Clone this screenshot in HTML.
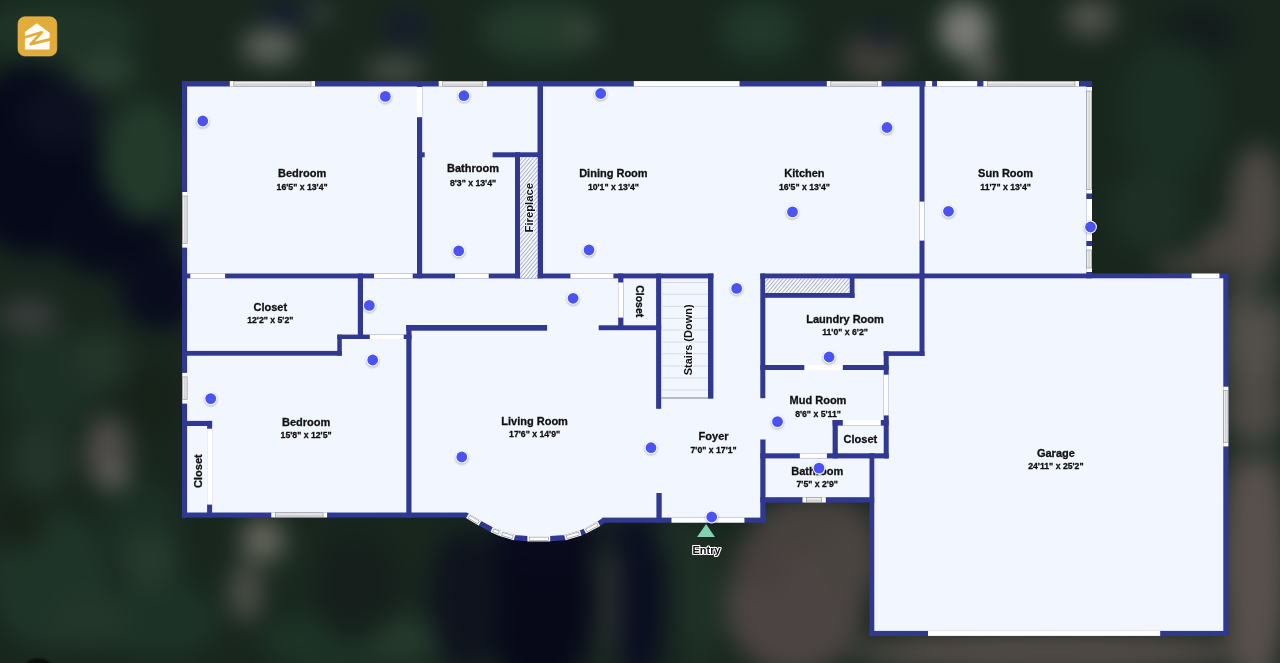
<!DOCTYPE html>
<html><head><meta charset="utf-8"><style>
html,body{margin:0;padding:0;position:relative;width:1280px;height:663px;overflow:hidden;background:#1a2a22;}
svg{display:block;position:absolute;left:0;top:0;will-change:transform;}
#bg{position:absolute;left:-40px;top:-40px;width:1360px;height:743px;background:#18261e;filter:blur(12px);overflow:hidden;}
#bg div{position:absolute;border-radius:50%;}
text{font-family:"Liberation Sans", sans-serif;}
</style></head><body>
<div id="bg">
<div style="left:0px;top:105px;width:140px;height:190px;background:#060919"></div>
<div style="left:90px;top:225px;width:120px;height:90px;background:#070a1a"></div>
<div style="left:160px;top:290px;width:80px;height:80px;background:#090c1d"></div>
<div style="left:60px;top:120px;width:80px;height:70px;background:#0d1020"></div>
<div style="left:525px;top:545px;width:110px;height:190px;background:#070919"></div>
<div style="left:530px;top:552px;width:110px;height:56px;background:#090b1d"></div>
<div style="left:655px;top:555px;width:50px;height:170px;background:#0a0e20"></div>
<div style="left:645px;top:560px;width:50px;height:50px;background:#0b0f20"></div>
<div style="left:303px;top:40px;width:44px;height:24px;background:#151b33"></div>
<div style="left:425px;top:52px;width:40px;height:32px;background:#151a2e"></div>
<div style="left:1200px;top:45px;width:80px;height:50px;background:#141c1c"></div>
<div style="left:145px;top:140px;width:80px;height:120px;background:#233a2b"></div>
<div style="left:113px;top:92px;width:64px;height:36px;background:#2a4031"></div>
<div style="left:20px;top:40px;width:160px;height:60px;background:#1f3427"></div>
<div style="left:520px;top:40px;width:120px;height:60px;background:#243a2b"></div>
<div style="left:760px;top:40px;width:80px;height:60px;background:#21382a"></div>
<div style="left:1160px;top:80px;width:100px;height:140px;background:#1c2f24"></div>
<div style="left:1150px;top:210px;width:80px;height:80px;background:#1e3026"></div>
<div style="left:30px;top:550px;width:120px;height:140px;background:#1f3428"></div>
<div style="left:140px;top:620px;width:120px;height:80px;background:#1d3226"></div>
<div style="left:300px;top:650px;width:140px;height:60px;background:#1d3326"></div>
<div style="left:718px;top:570px;width:44px;height:140px;background:#1e3127"></div>
<div style="left:700px;top:560px;width:50px;height:40px;background:#1e2f26"></div>
<div style="left:40px;top:370px;width:100px;height:100px;background:#1d3026"></div>
<div style="left:140px;top:520px;width:80px;height:80px;background:#1c2f24"></div>
<div style="left:282px;top:70px;width:56px;height:34px;background:#62655f"></div>
<div style="left:350px;top:46px;width:20px;height:16px;background:#50544f"></div>
<div style="left:405px;top:96px;width:60px;height:28px;background:#454b45"></div>
<div style="left:606px;top:60px;width:32px;height:24px;background:#3b473c"></div>
<div style="left:883px;top:73px;width:64px;height:50px;background:#403e39"></div>
<div style="left:908px;top:64px;width:24px;height:24px;background:#15192a"></div>
<div style="left:979px;top:42px;width:52px;height:56px;background:#7b7c77"></div>
<div style="left:1009px;top:94px;width:28px;height:28px;background:#5f5f5a"></div>
<div style="left:1105px;top:40px;width:50px;height:36px;background:#56554f"></div>
<div style="left:1270px;top:185px;width:56px;height:130px;background:#4e4945"></div>
<div style="left:1240px;top:265px;width:50px;height:50px;background:#4a4541"></div>
<div style="left:1195px;top:293px;width:70px;height:24px;background:#45413c"></div>
<div style="left:1263px;top:310px;width:64px;height:140px;background:#524e4a"></div>
<div style="left:1261px;top:470px;width:68px;height:260px;background:#58504d"></div>
<div style="left:1263px;top:420px;width:64px;height:60px;background:#4e4a46"></div>
<div style="left:1291px;top:316px;width:24px;height:32px;background:#24332a"></div>
<div style="left:1266px;top:481px;width:64px;height:22px;background:#2c352f"></div>
<div style="left:765px;top:575px;width:140px;height:140px;background:#4b4442"></div>
<div style="left:775px;top:570px;width:50px;height:60px;background:#463f3d"></div>
<div style="left:890px;top:672px;width:400px;height:40px;background:#544c49"></div>
<div style="left:795px;top:537px;width:120px;height:56px;background:#47413e"></div>
<div style="left:860px;top:560px;width:60px;height:80px;background:#4a4441"></div>
<div style="left:641px;top:580px;width:18px;height:120px;background:#2f3430"></div>
<div style="left:126px;top:456px;width:44px;height:72px;background:#514d4b"></div>
<div style="left:145px;top:509px;width:22px;height:18px;background:#75756f"></div>
<div style="left:38px;top:338px;width:60px;height:36px;background:#3a3c3c"></div>
<div style="left:110px;top:370px;width:60px;height:60px;background:#233429"></div>
<div style="left:165px;top:400px;width:50px;height:80px;background:#172219"></div>
<div style="left:50px;top:465px;width:60px;height:70px;background:#23352a"></div>
<div style="left:160px;top:570px;width:60px;height:60px;background:#253a2d"></div>
<div style="left:90px;top:630px;width:80px;height:60px;background:#22362a"></div>
<div style="left:35px;top:530px;width:50px;height:60px;background:#172219"></div>
<div style="left:400px;top:655px;width:80px;height:50px;background:#24392c"></div>
<div style="left:310px;top:580px;width:60px;height:60px;background:#1a2a20"></div>
<div style="left:470px;top:570px;width:70px;height:140px;background:#0f131d"></div>
<div style="left:350px;top:570px;width:90px;height:110px;background:#161f1c"></div>
<div style="left:281px;top:558px;width:44px;height:44px;background:#66665d"></div>
<div style="left:269px;top:602px;width:34px;height:60px;background:#4c4f48"></div>
</div>
<svg width="1280" height="663" viewBox="0 0 1280 663">
<defs>
<filter id="bgblur" x="-20%" y="-20%" width="140%" height="140%"><feGaussianBlur stdDeviation="18"/></filter>
<filter id="dsh" x="-50%" y="-50%" width="200%" height="200%"><feGaussianBlur stdDeviation="1"/></filter>
<pattern id="hatch" patternUnits="userSpaceOnUse" width="2.8" height="10" patternTransform="rotate(40)">
<rect width="2.8" height="10" fill="#f7f9ff"/><line x1="0.5" y1="0" x2="0.5" y2="10" stroke="#a3a9bf" stroke-width="0.9"/></pattern>
</defs>
<path d="M183,82 H1091 V274.5 H1227.4 V635 H870.5 V501.5 H764.5 V521.7 H604 L604,520.1 L598.9,523.6 L584.8,531.2 L580.7,533.0 L564.9,537.6 L550.2,538.7 L527.4,538.7 L514.5,537.6 L500.4,533.4 L491.6,529.6 L480,523.3 L466,515 L466,516.6 H183 Z" fill="#f2f7ff"/>
<rect x="182.00" y="81.10" width="910.00" height="5.40" fill="#303891" />
<rect x="182.00" y="81.10" width="5.10" height="436.50" fill="#303891" />
<rect x="182.30" y="512.50" width="284.70" height="5.10" fill="#303891" />
<rect x="1086.30" y="81.10" width="5.70" height="197.20" fill="#303891" />
<rect x="919.50" y="273.50" width="308.90" height="4.80" fill="#303891" />
<rect x="1223.30" y="273.50" width="5.10" height="362.40" fill="#303891" />
<rect x="869.50" y="630.90" width="358.90" height="5.00" fill="#303891" />
<rect x="869.50" y="453.20" width="4.80" height="182.70" fill="#303891" />
<rect x="883.70" y="351.30" width="5.00" height="107.10" fill="#303891" />
<rect x="602.00" y="517.60" width="163.50" height="5.10" fill="#303891" />
<rect x="760.30" y="439.50" width="5.20" height="83.20" fill="#303891" />
<rect x="760.30" y="497.20" width="113.90" height="5.30" fill="#303891" />
<rect x="760.30" y="273.50" width="5.00" height="124.70" fill="#303891" />
<rect x="417.00" y="81.10" width="5.20" height="197.20" fill="#303891" />
<rect x="417.00" y="152.30" width="7.70" height="5.00" fill="#303891" />
<rect x="537.50" y="81.10" width="5.50" height="197.20" fill="#303891" />
<rect x="492.60" y="152.30" width="50.40" height="5.00" fill="#303891" />
<rect x="515.00" y="152.30" width="5.10" height="126.00" fill="#303891" />
<rect x="919.50" y="81.10" width="5.00" height="197.20" fill="#303891" />
<rect x="182.30" y="273.50" width="531.10" height="4.90" fill="#303891" />
<rect x="357.80" y="273.50" width="5.20" height="65.50" fill="#303891" />
<rect x="187.00" y="350.90" width="154.80" height="4.80" fill="#303891" />
<rect x="337.30" y="334.60" width="4.50" height="21.10" fill="#303891" />
<rect x="337.30" y="334.60" width="74.20" height="4.40" fill="#303891" />
<rect x="406.30" y="325.00" width="140.80" height="5.70" fill="#303891" />
<rect x="598.70" y="325.30" width="62.50" height="4.90" fill="#303891" />
<rect x="406.30" y="325.00" width="5.20" height="192.60" fill="#303891" />
<rect x="187.00" y="420.90" width="25.10" height="5.10" fill="#303891" />
<rect x="207.10" y="420.90" width="5.00" height="96.70" fill="#303891" />
<rect x="618.20" y="273.50" width="5.20" height="56.50" fill="#303891" />
<rect x="656.10" y="273.50" width="5.10" height="135.30" fill="#303891" />
<rect x="708.00" y="273.50" width="5.40" height="125.20" fill="#303891" />
<rect x="656.40" y="493.00" width="5.30" height="29.70" fill="#303891" />
<rect x="760.30" y="273.50" width="164.20" height="5.10" fill="#303891" />
<rect x="765.00" y="292.90" width="89.50" height="4.90" fill="#303891" />
<rect x="849.50" y="278.00" width="5.00" height="19.80" fill="#303891" />
<rect x="919.50" y="273.50" width="5.00" height="82.40" fill="#303891" />
<rect x="883.70" y="351.30" width="40.80" height="4.60" fill="#303891" />
<rect x="760.30" y="365.00" width="128.40" height="5.00" fill="#303891" />
<rect x="832.60" y="420.00" width="56.10" height="5.60" fill="#303891" />
<rect x="832.60" y="420.00" width="5.20" height="38.40" fill="#303891" />
<rect x="760.30" y="453.30" width="128.40" height="5.10" fill="#303891" />
<polyline points="466,515 480,523.3 491.6,529.6 500.4,533.4 514.5,537.6 527.4,538.7 550.2,538.7 564.9,537.6 580.7,533.0 584.8,531.2 598.9,523.6 604,520.1" fill="none" stroke="#303891" stroke-width="5.2" stroke-linejoin="round"/>
<rect x="190.30" y="273.50" width="34.80" height="4.90" fill="#ffffff" />
<rect x="374.00" y="273.50" width="38.70" height="4.90" fill="#ffffff" />
<rect x="455.00" y="273.50" width="33.70" height="4.90" fill="#ffffff" />
<rect x="570.40" y="273.50" width="43.00" height="4.90" fill="#ffffff" />
<rect x="1191.60" y="273.50" width="27.80" height="4.80" fill="#ffffff" />
<rect x="417.00" y="87.00" width="5.20" height="30.20" fill="#ffffff" />
<rect x="919.50" y="201.60" width="5.00" height="39.00" fill="#ffffff" />
<rect x="369.80" y="334.60" width="33.90" height="4.40" fill="#ffffff" />
<rect x="207.10" y="428.70" width="5.00" height="75.90" fill="#ffffff" />
<rect x="618.20" y="282.50" width="5.20" height="35.10" fill="#ffffff" />
<rect x="804.30" y="365.00" width="38.50" height="5.00" fill="#ffffff" />
<rect x="842.80" y="420.00" width="38.00" height="5.60" fill="#ffffff" />
<rect x="799.80" y="453.30" width="27.10" height="5.10" fill="#ffffff" />
<rect x="671.50" y="517.60" width="72.90" height="5.10" fill="#ffffff" />
<rect x="633.80" y="81.10" width="105.70" height="5.40" fill="#ffffff" />
<rect x="937.00" y="81.10" width="40.20" height="5.40" fill="#ffffff" />
<rect x="1086.30" y="199.00" width="5.70" height="42.00" fill="#ffffff" />
<rect x="883.70" y="374.70" width="5.00" height="40.70" fill="#ffffff" />
<rect x="928.00" y="630.90" width="232.20" height="5.00" fill="#ffffff" />
<rect x="229.80" y="81.10" width="85.20" height="5.40" fill="#ffffff" />
<rect x="233.80" y="81.50" width="77.20" height="4.60" fill="#ececec" stroke="#8a8a8a" stroke-width="0.6"/>
<line x1="233.80" y1="84.20" x2="311.00" y2="84.20" stroke="#b0b0b0" stroke-width="0.6"/>
<rect x="438.70" y="81.10" width="48.20" height="5.40" fill="#ffffff" />
<rect x="442.70" y="81.50" width="40.20" height="4.60" fill="#ececec" stroke="#8a8a8a" stroke-width="0.6"/>
<line x1="442.70" y1="84.20" x2="482.90" y2="84.20" stroke="#b0b0b0" stroke-width="0.6"/>
<rect x="826.80" y="81.10" width="54.70" height="5.40" fill="#ffffff" />
<rect x="830.80" y="81.50" width="46.70" height="4.60" fill="#ececec" stroke="#8a8a8a" stroke-width="0.6"/>
<line x1="830.80" y1="84.20" x2="877.50" y2="84.20" stroke="#b0b0b0" stroke-width="0.6"/>
<rect x="925.50" y="81.10" width="6.60" height="5.40" fill="#ffffff" />
<rect x="929.50" y="81.50" width="-1.40" height="4.60" fill="#ececec" stroke="#8a8a8a" stroke-width="0.6"/>
<line x1="929.50" y1="84.20" x2="928.10" y2="84.20" stroke="#b0b0b0" stroke-width="0.6"/>
<rect x="983.40" y="81.10" width="95.60" height="5.40" fill="#ffffff" />
<rect x="987.40" y="81.50" width="87.60" height="4.60" fill="#ececec" stroke="#8a8a8a" stroke-width="0.6"/>
<line x1="987.40" y1="84.20" x2="1075.00" y2="84.20" stroke="#b0b0b0" stroke-width="0.6"/>
<rect x="271.30" y="512.40" width="55.80" height="5.00" fill="#ffffff" />
<rect x="275.30" y="512.80" width="47.80" height="4.20" fill="#ececec" stroke="#8a8a8a" stroke-width="0.6"/>
<line x1="275.30" y1="515.30" x2="323.10" y2="515.30" stroke="#b0b0b0" stroke-width="0.6"/>
<rect x="802.50" y="497.20" width="23.30" height="5.30" fill="#ffffff" />
<rect x="806.50" y="497.60" width="15.30" height="4.50" fill="#ececec" stroke="#8a8a8a" stroke-width="0.6"/>
<line x1="806.50" y1="500.25" x2="821.80" y2="500.25" stroke="#b0b0b0" stroke-width="0.6"/>
<rect x="1086.30" y="87.00" width="5.70" height="106.50" fill="#ffffff" />
<rect x="1086.70" y="91.00" width="4.90" height="98.50" fill="#ececec" stroke="#8a8a8a" stroke-width="0.6"/>
<line x1="1089.15" y1="91.00" x2="1089.15" y2="189.50" stroke="#b0b0b0" stroke-width="0.6"/>
<rect x="1086.30" y="246.00" width="5.70" height="26.00" fill="#ffffff" />
<rect x="1086.70" y="250.00" width="4.90" height="18.00" fill="#ececec" stroke="#8a8a8a" stroke-width="0.6"/>
<line x1="1089.15" y1="250.00" x2="1089.15" y2="268.00" stroke="#b0b0b0" stroke-width="0.6"/>
<rect x="182.30" y="192.00" width="5.20" height="55.60" fill="#ffffff" />
<rect x="182.70" y="196.00" width="4.40" height="47.60" fill="#ececec" stroke="#8a8a8a" stroke-width="0.6"/>
<line x1="184.90" y1="196.00" x2="184.90" y2="243.60" stroke="#b0b0b0" stroke-width="0.6"/>
<rect x="182.30" y="372.90" width="5.20" height="30.70" fill="#ffffff" />
<rect x="182.70" y="376.90" width="4.40" height="22.70" fill="#ececec" stroke="#8a8a8a" stroke-width="0.6"/>
<line x1="184.90" y1="376.90" x2="184.90" y2="399.60" stroke="#b0b0b0" stroke-width="0.6"/>
<rect x="1223.30" y="386.70" width="5.10" height="59.70" fill="#ffffff" />
<rect x="1223.70" y="390.70" width="4.30" height="51.70" fill="#ececec" stroke="#8a8a8a" stroke-width="0.6"/>
<line x1="1225.85" y1="390.70" x2="1225.85" y2="442.40" stroke="#b0b0b0" stroke-width="0.6"/>
<g transform="translate(473.75,519.55) rotate(30.96)"><rect x="-7.29" y="-2.7" width="14.58" height="5.4" fill="#fff"/><rect x="-5.49" y="-1.6" width="10.98" height="3.2" fill="#fafafa" stroke="#8a8a8a" stroke-width="0.6"/></g>
<g transform="translate(496.00,531.50) rotate(23.36)"><rect x="-4.79" y="-2.7" width="9.59" height="5.4" fill="#fff"/><rect x="-2.99" y="-1.6" width="5.99" height="3.2" fill="#fafafa" stroke="#8a8a8a" stroke-width="0.6"/></g>
<g transform="translate(507.45,535.50) rotate(16.59)"><rect x="-7.36" y="-2.7" width="14.71" height="5.4" fill="#fff"/><rect x="-5.56" y="-1.6" width="11.11" height="3.2" fill="#fafafa" stroke="#8a8a8a" stroke-width="0.6"/></g>
<g transform="translate(538.80,538.70) rotate(0.00)"><rect x="-11.40" y="-2.7" width="22.80" height="5.4" fill="#fff"/><rect x="-9.60" y="-1.6" width="19.20" height="3.2" fill="#fafafa" stroke="#8a8a8a" stroke-width="0.6"/></g>
<g transform="translate(572.80,535.30) rotate(-16.23)"><rect x="-8.23" y="-2.7" width="16.46" height="5.4" fill="#fff"/><rect x="-6.43" y="-1.6" width="12.86" height="3.2" fill="#fafafa" stroke="#8a8a8a" stroke-width="0.6"/></g>
<g transform="translate(591.85,527.40) rotate(-28.32)"><rect x="-8.01" y="-2.7" width="16.02" height="5.4" fill="#fff"/><rect x="-6.21" y="-1.6" width="12.42" height="3.2" fill="#fafafa" stroke="#8a8a8a" stroke-width="0.6"/></g>
<rect x="520.1" y="157.3" width="17.4" height="121" fill="url(#hatch)"/>
<rect x="765.3" y="278.6" width="84.2" height="14.3" fill="url(#hatch)"/>
<line x1="661.2" y1="282.5" x2="708" y2="282.5" stroke="#d4d9e3" stroke-width="1"/>
<line x1="661.2" y1="294.2" x2="708" y2="294.2" stroke="#d4d9e3" stroke-width="1"/>
<line x1="661.2" y1="306.4" x2="708" y2="306.4" stroke="#d4d9e3" stroke-width="1"/>
<line x1="661.2" y1="318.3" x2="708" y2="318.3" stroke="#d4d9e3" stroke-width="1"/>
<line x1="661.2" y1="330" x2="708" y2="330" stroke="#d4d9e3" stroke-width="1"/>
<line x1="661.2" y1="342.1" x2="708" y2="342.1" stroke="#d4d9e3" stroke-width="1"/>
<line x1="661.2" y1="353.8" x2="708" y2="353.8" stroke="#d4d9e3" stroke-width="1"/>
<line x1="661.2" y1="366" x2="708" y2="366" stroke="#d4d9e3" stroke-width="1"/>
<line x1="661.2" y1="377.9" x2="708" y2="377.9" stroke="#d4d9e3" stroke-width="1"/>
<line x1="661.2" y1="390" x2="708" y2="390" stroke="#d4d9e3" stroke-width="1"/>
<line x1="661.2" y1="398" x2="708" y2="398" stroke="#7a7f95" stroke-width="1"/>
<g font-family="Liberation Sans, sans-serif" font-weight="bold" fill="#111111" stroke="#111111" stroke-width="0.3">
<text x="302.1" y="176.9" font-size="11" text-anchor="middle" >Bedroom</text>
<text x="302.1" y="190.0" font-size="8.7" text-anchor="middle" >16'5&quot; x 13'4&quot;</text>
<text x="473" y="172.2" font-size="11" text-anchor="middle" >Bathroom</text>
<text x="473" y="185.7" font-size="8.7" text-anchor="middle" >8'3&quot; x 13'4&quot;</text>
<text x="613.4" y="176.6" font-size="11" text-anchor="middle" >Dining Room</text>
<text x="613.4" y="189.5" font-size="8.7" text-anchor="middle" >10'1&quot; x 13'4&quot;</text>
<text x="804.4" y="176.6" font-size="11" text-anchor="middle" >Kitchen</text>
<text x="804.4" y="189.5" font-size="8.7" text-anchor="middle" >16'5&quot; x 13'4&quot;</text>
<text x="1005.6" y="176.8" font-size="11" text-anchor="middle" >Sun Room</text>
<text x="1005.6" y="190.2" font-size="8.7" text-anchor="middle" >11'7&quot; x 13'4&quot;</text>
<text x="270.3" y="310.7" font-size="11" text-anchor="middle" >Closet</text>
<text x="270.3" y="323.3" font-size="8.7" text-anchor="middle" >12'2&quot; x 5'2&quot;</text>
<text x="845" y="323" font-size="11" text-anchor="middle" >Laundry Room</text>
<text x="845" y="335.2" font-size="8.7" text-anchor="middle" >11'0&quot; x 6'2&quot;</text>
<text x="818" y="404" font-size="11" text-anchor="middle" >Mud Room</text>
<text x="818" y="416.5" font-size="8.7" text-anchor="middle" >8'6&quot; x 5'11&quot;</text>
<text x="817.2" y="475" font-size="11" text-anchor="middle" >Bathroom</text>
<text x="817.2" y="486.7" font-size="8.7" text-anchor="middle" >7'5&quot; x 2'9&quot;</text>
<text x="534.6" y="424.9" font-size="11" text-anchor="middle" >Living Room</text>
<text x="534.6" y="437.1" font-size="8.7" text-anchor="middle" >17'6&quot; x 14'9&quot;</text>
<text x="713.6" y="439.9" font-size="11" text-anchor="middle" >Foyer</text>
<text x="713.6" y="452.5" font-size="8.7" text-anchor="middle" >7'0&quot; x 17'1&quot;</text>
<text x="306.1" y="426" font-size="11" text-anchor="middle" >Bedroom</text>
<text x="306.1" y="438.2" font-size="8.7" text-anchor="middle" >15'8&quot; x 12'5&quot;</text>
<text x="1055.9" y="456.8" font-size="11" text-anchor="middle" >Garage</text>
<text x="1055.9" y="469.1" font-size="8.7" text-anchor="middle" >24'11&quot; x 25'2&quot;</text>
<text x="860.4" y="442.6" font-size="11" text-anchor="middle" >Closet</text>
<text x="533.4" y="207.7" font-size="11.3" text-anchor="middle" transform="rotate(-90 533.4 207.7)" stroke="#f4f7ff" stroke-width="1.6" paint-order="stroke">Fireplace</text>
<text x="635.7" y="301.2" font-size="10.5" text-anchor="middle" transform="rotate(90 635.7 301.2)" >Closet</text>
<text x="691.7" y="339.8" font-size="11" text-anchor="middle" transform="rotate(-90 691.7 339.8)" stroke="#f4f7ff" stroke-width="1.6" paint-order="stroke">Stairs (Down)</text>
<text x="201.7" y="471.1" font-size="11" text-anchor="middle" transform="rotate(-90 201.7 471.1)" >Closet</text>
</g>
<circle cx="202.75" cy="122" r="6.6" fill="#000" opacity="0.25" filter="url(#dsh)"/>
<circle cx="202.75" cy="121" r="6.4" fill="#fff"/>
<circle cx="202.75" cy="121" r="5.4" fill="#4a54f5"/>
<circle cx="385.3" cy="97.4" r="6.6" fill="#000" opacity="0.25" filter="url(#dsh)"/>
<circle cx="385.3" cy="96.4" r="6.4" fill="#fff"/>
<circle cx="385.3" cy="96.4" r="5.4" fill="#4a54f5"/>
<circle cx="463.9" cy="96.7" r="6.6" fill="#000" opacity="0.25" filter="url(#dsh)"/>
<circle cx="463.9" cy="95.7" r="6.4" fill="#fff"/>
<circle cx="463.9" cy="95.7" r="5.4" fill="#4a54f5"/>
<circle cx="458.7" cy="251.9" r="6.6" fill="#000" opacity="0.25" filter="url(#dsh)"/>
<circle cx="458.7" cy="250.9" r="6.4" fill="#fff"/>
<circle cx="458.7" cy="250.9" r="5.4" fill="#4a54f5"/>
<circle cx="600.7" cy="94.5" r="6.6" fill="#000" opacity="0.25" filter="url(#dsh)"/>
<circle cx="600.7" cy="93.5" r="6.4" fill="#fff"/>
<circle cx="600.7" cy="93.5" r="5.4" fill="#4a54f5"/>
<circle cx="589" cy="251" r="6.6" fill="#000" opacity="0.25" filter="url(#dsh)"/>
<circle cx="589" cy="250" r="6.4" fill="#fff"/>
<circle cx="589" cy="250" r="5.4" fill="#4a54f5"/>
<circle cx="887" cy="128.5" r="6.6" fill="#000" opacity="0.25" filter="url(#dsh)"/>
<circle cx="887" cy="127.5" r="6.4" fill="#fff"/>
<circle cx="887" cy="127.5" r="5.4" fill="#4a54f5"/>
<circle cx="792.5" cy="212.9" r="6.6" fill="#000" opacity="0.25" filter="url(#dsh)"/>
<circle cx="792.5" cy="211.9" r="6.4" fill="#fff"/>
<circle cx="792.5" cy="211.9" r="5.4" fill="#4a54f5"/>
<circle cx="948.5" cy="212.3" r="6.6" fill="#000" opacity="0.25" filter="url(#dsh)"/>
<circle cx="948.5" cy="211.3" r="6.4" fill="#fff"/>
<circle cx="948.5" cy="211.3" r="5.4" fill="#4a54f5"/>
<circle cx="1090.5" cy="228" r="6.6" fill="#000" opacity="0.25" filter="url(#dsh)"/>
<circle cx="1090.5" cy="227" r="6.4" fill="#fff"/>
<circle cx="1090.5" cy="227" r="5.4" fill="#4a54f5"/>
<circle cx="369.3" cy="306.4" r="6.6" fill="#000" opacity="0.25" filter="url(#dsh)"/>
<circle cx="369.3" cy="305.4" r="6.4" fill="#fff"/>
<circle cx="369.3" cy="305.4" r="5.4" fill="#4a54f5"/>
<circle cx="573.1" cy="299.3" r="6.6" fill="#000" opacity="0.25" filter="url(#dsh)"/>
<circle cx="573.1" cy="298.3" r="6.4" fill="#fff"/>
<circle cx="573.1" cy="298.3" r="5.4" fill="#4a54f5"/>
<circle cx="736.7" cy="289.4" r="6.6" fill="#000" opacity="0.25" filter="url(#dsh)"/>
<circle cx="736.7" cy="288.4" r="6.4" fill="#fff"/>
<circle cx="736.7" cy="288.4" r="5.4" fill="#4a54f5"/>
<circle cx="372.7" cy="361" r="6.6" fill="#000" opacity="0.25" filter="url(#dsh)"/>
<circle cx="372.7" cy="360" r="6.4" fill="#fff"/>
<circle cx="372.7" cy="360" r="5.4" fill="#4a54f5"/>
<circle cx="210.7" cy="399.6" r="6.6" fill="#000" opacity="0.25" filter="url(#dsh)"/>
<circle cx="210.7" cy="398.6" r="6.4" fill="#fff"/>
<circle cx="210.7" cy="398.6" r="5.4" fill="#4a54f5"/>
<circle cx="461.8" cy="458" r="6.6" fill="#000" opacity="0.25" filter="url(#dsh)"/>
<circle cx="461.8" cy="457" r="6.4" fill="#fff"/>
<circle cx="461.8" cy="457" r="5.4" fill="#4a54f5"/>
<circle cx="651" cy="448.7" r="6.6" fill="#000" opacity="0.25" filter="url(#dsh)"/>
<circle cx="651" cy="447.7" r="6.4" fill="#fff"/>
<circle cx="651" cy="447.7" r="5.4" fill="#4a54f5"/>
<circle cx="777.5" cy="422.6" r="6.6" fill="#000" opacity="0.25" filter="url(#dsh)"/>
<circle cx="777.5" cy="421.6" r="6.4" fill="#fff"/>
<circle cx="777.5" cy="421.6" r="5.4" fill="#4a54f5"/>
<circle cx="829.1" cy="358" r="6.6" fill="#000" opacity="0.25" filter="url(#dsh)"/>
<circle cx="829.1" cy="357" r="6.4" fill="#fff"/>
<circle cx="829.1" cy="357" r="5.4" fill="#4a54f5"/>
<circle cx="819" cy="469.1" r="6.6" fill="#000" opacity="0.25" filter="url(#dsh)"/>
<circle cx="819" cy="468.1" r="6.4" fill="#fff"/>
<circle cx="819" cy="468.1" r="5.4" fill="#4a54f5"/>
<circle cx="711.7" cy="518" r="6.6" fill="#000" opacity="0.25" filter="url(#dsh)"/>
<circle cx="711.7" cy="517" r="6.4" fill="#fff"/>
<circle cx="711.7" cy="517" r="5.4" fill="#4a54f5"/>
<path d="M706.1,524.1 L714.9,537 L697,537 Z" fill="#80d4b1"/>
<text x="706.5" y="554" font-family="Liberation Sans, sans-serif" font-weight="bold" font-size="11" text-anchor="middle" fill="#111" stroke="#fff" stroke-width="2.2" paint-order="stroke" stroke-linejoin="round">Entry</text>
<rect x="18" y="16.8" width="38.8" height="39.2" rx="7" fill="#e2ac3b" stroke="#f0c060" stroke-width="0.6"/>
<path d="M24.9,32.1 L36.8,23.2 L49.6,32.7 L49.6,49.5 L24.9,49.5 Z" fill="#fffdf6"/>
<path d="M23.5,37.7 L41.8,32.3 L30.7,44.1 L51,39.1" fill="none" stroke="#e2ac3b" stroke-width="2.7" stroke-linejoin="round"/>
<circle cx="38.3" cy="676.5" r="19" fill="#000" opacity="0.35" filter="url(#dsh)"/>
<circle cx="38.3" cy="676.5" r="17.6" fill="#0b0e0d"/>
</svg>
</body></html>
